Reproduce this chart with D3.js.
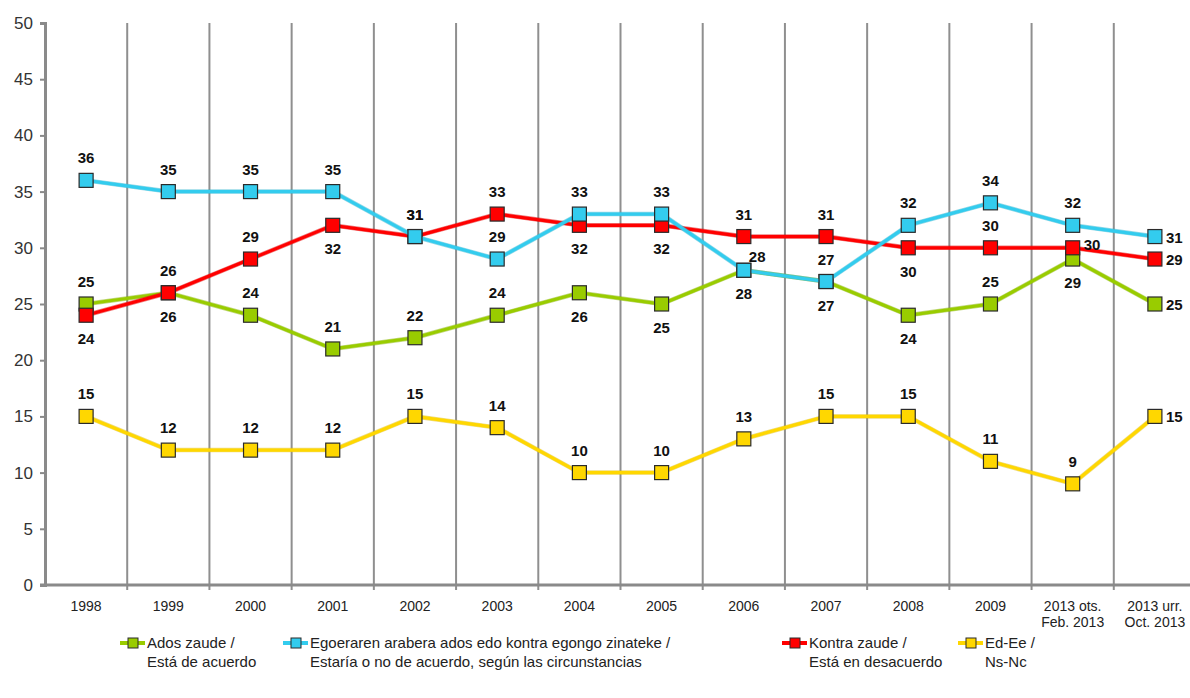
<!DOCTYPE html>
<html lang="es">
<head>
<meta charset="UTF-8">
<script src="https://cdnjs.cloudflare.com/ajax/libs/d3/7.8.5/d3.min.js"></script>
<style>
body { margin: 0; background: #fff; font-family: "Liberation Sans", Arial, sans-serif; }
.ylab text { font-size: 17px; fill: #333; font-family: "Liberation Sans", Arial, sans-serif; }
.xlab { font-size: 14px; fill: #222; }
.val { font-size: 15px; font-weight: bold; fill: #111; }
.leg { font-size: 15px; fill: #222; }
</style>
</head>
<body>
<script>
var categories = ["1998","1999","2000","2001","2002","2003","2004","2005","2006","2007","2008","2009","2013 ots.|Feb. 2013","2013 urr.|Oct. 2013"];

var adosZaude   = [25,26,24,21,22,24,26,25,28,27,24,25,29,25];
var egoeraren   = [36,35,35,35,31,29,33,33,28,27,32,34,32,31];
var kontraZaude = [24,26,29,32,31,33,32,32,31,31,30,30,30,29];
var edEe        = [15,12,12,12,15,14,10,10,13,15,15,11,9,15];

var yTicks = [0,5,10,15,20,25,30,35,40,45,50];

// where each value label sits: t = above, b = below, r = right, tr = above right
var adosPos   = ["t","t","t","t","t","t","b","b","tr","b","b","t","b","r"];
var egoPos    = ["t","t","t","t","t","t","t","t","b","t","t","t","t","r"];
var kontraPos = ["b","b","t","b","t","t","b","b","t","t","b","t","r","r"];
var edPos     = ["t","t","t","t","t","t","t","t","t","t","t","t","t","r"];

var series = [
  {name: ["Ados zaude /", "Está de acuerdo"], values: adosZaude, pos: adosPos, color: "#99cc00", legX: 120},
  {name: ["Egoeraren arabera ados edo kontra egongo zinateke /", "Estaría o no de acuerdo, según las circunstancias"], values: egoeraren, pos: egoPos, color: "#33ccee", legX: 283},
  {name: ["Kontra zaude /", "Está en desacuerdo"], values: kontraZaude, pos: kontraPos, color: "#ff0000", legX: 782},
  {name: ["Ed-Ee /", "Ns-Nc"], values: edEe, pos: edPos, color: "#ffd700", legX: 958}
];
// draw order: red and cyan over green, yellow separately
var drawOrder = [0, 3, 2, 1];

var W = 1190, H = 698;
var svg = d3.select("body").append("svg").attr("width", W).attr("height", H);

var x = d3.scaleBand().domain(categories).range([45, 1196]);
var y = d3.scaleLinear().domain([0, 50]).range([585, 23]);
var bw = x.bandwidth();

// vertical separators
svg.append("g").selectAll("line")
  .data(categories.slice(1))
  .enter().append("line")
  .attr("x1", d => x(d)).attr("x2", d => x(d))
  .attr("y1", y(50)).attr("y2", y(0) + 5)
  .attr("stroke", "#8f8f8f").attr("stroke-width", 2);

// y axis
var yAxis = d3.axisLeft(y).tickValues(yTicks).tickSize(5).tickPadding(7);
var yg = svg.append("g").attr("class", "ylab").attr("transform", "translate(45,0)").call(yAxis);
yg.select(".domain").attr("stroke", "#8a8a8a").attr("stroke-width", 3);
yg.selectAll(".tick line").attr("stroke", "#8a8a8a").attr("stroke-width", 2);

// x axis line
svg.append("line").attr("x1", 40).attr("x2", W).attr("y1", y(0)).attr("y2", y(0))
  .attr("stroke", "#8a8a8a").attr("stroke-width", 3);

// x labels
var xl = svg.append("g").selectAll("text")
  .data(categories).enter().append("text")
  .attr("class", "xlab")
  .attr("text-anchor", "middle")
  .attr("x", d => x(d) + bw / 2)
  .attr("y", 611);
xl.each(function(d) {
  var parts = d.split("|");
  var t = d3.select(this);
  parts.forEach(function(p, i) {
    t.append("tspan").attr("x", x(d) + bw / 2).attr("dy", i === 0 ? 0 : 16).text(p);
  });
});

var line = d3.line().x((d, i) => x(categories[i]) + bw / 2).y(d => y(d));

drawOrder.forEach(function(k) {
  var s = series[k];
  svg.append("path").datum(s.values)
    .attr("d", line)
    .attr("fill", "none")
    .attr("stroke", d3.color(s.color).darker(0.4))
    .attr("stroke-width", 4.5)
    .attr("opacity", 0.5);
  svg.append("path").datum(s.values)
    .attr("d", line)
    .attr("fill", "none")
    .attr("stroke", s.color)
    .attr("stroke-width", 3.2);
  svg.append("g").selectAll("rect")
    .data(s.values).enter().append("rect")
    .attr("x", (d, i) => x(categories[i]) + bw / 2 - 7)
    .attr("y", d => y(d) - 7)
    .attr("width", 14).attr("height", 14)
    .attr("fill", s.color)
    .attr("stroke", "#2a2a2a").attr("stroke-width", 1.2);
});

// value labels
series.forEach(function(s) {
  svg.append("g").selectAll("text")
    .data(s.values).enter().append("text")
    .attr("class", "val")
    .attr("text-anchor", (d, i) => (s.pos[i] === "r" ? "start" : s.pos[i] === "tr" ? "start" : "middle"))
    .attr("x", function(d, i) {
      var cx = x(categories[i]) + bw / 2;
      if (s.pos[i] === "r") return cx + 11;
      if (s.pos[i] === "tr") return cx + 5;
      return cx;
    })
    .attr("y", function(d, i) {
      var cy = y(d);
      var p = s.pos[i];
      if (p === "t") return cy - 17;
      if (p === "b") return cy + 29;
      if (p === "tr") return cy - 8;
      if (i === categories.length - 2) return cy + 2; // right of the Feb 2013 point
      return cy + 6;
    })
    .text(d => d);
});

// legend
series.forEach(function(s) {
  var g = svg.append("g").attr("transform", "translate(" + s.legX + ",643)");
  g.append("line").attr("x1", 0).attr("x2", 25).attr("y1", 0).attr("y2", 0)
    .attr("stroke", s.color).attr("stroke-width", 4);
  g.append("rect").attr("x", 8).attr("y", -5).attr("width", 10).attr("height", 10)
    .attr("fill", s.color).attr("stroke", "#2a2a2a").attr("stroke-width", 1);
  g.append("text").attr("class", "leg").attr("x", 27).attr("y", 5).text(s.name[0]);
  g.append("text").attr("class", "leg").attr("x", 27).attr("y", 24).text(s.name[1]);
});
</script>
</body>
</html>
